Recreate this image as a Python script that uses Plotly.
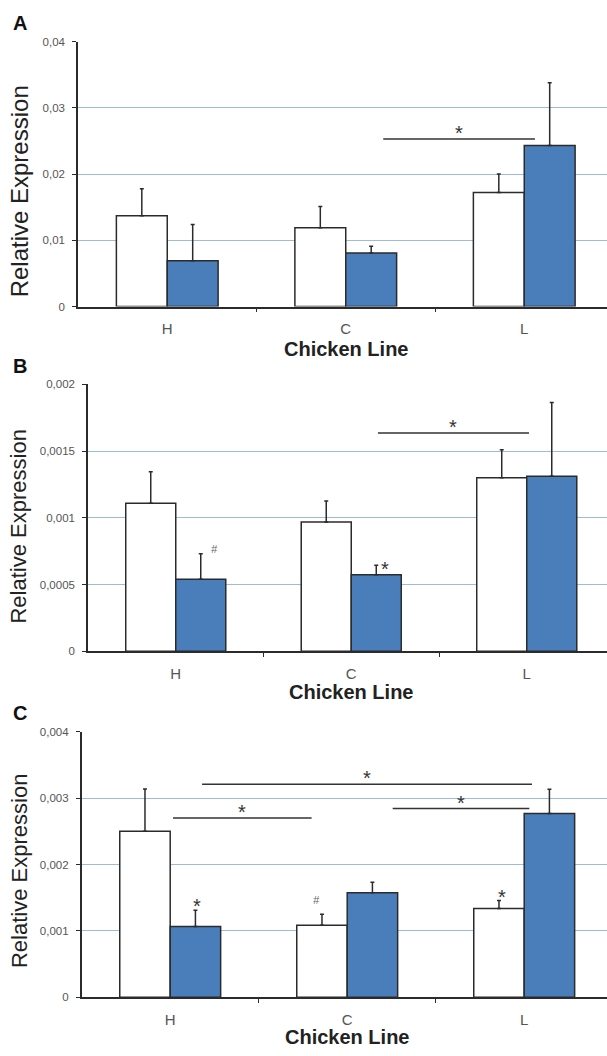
import plotly.graph_objects as go

W, H = 607, 1056

categories = ["H", "C", "L"]
cat_pos = [0, 1, 2]

# Panel A
a_white = [0.0137, 0.0119, 0.0172]
a_white_err = [0.0041, 0.0032, 0.0028]
a_blue = [0.0069, 0.0081, 0.0243]
a_blue_err = [0.0055, 0.0010, 0.0095]
a_ticks = [0, 0.01, 0.02, 0.03, 0.04]
a_ticktext = ["0", "0,01", "0,02", "0,03", "0,04"]

# Panel B
b_white = [0.00111, 0.000968, 0.00130]
b_white_err = [0.000235, 0.000158, 0.00021]
b_blue = [0.000539, 0.000573, 0.001311]
b_blue_err = [0.000192, 0.000071, 0.000553]
b_ticks = [0, 0.0005, 0.001, 0.0015, 0.002]
b_ticktext = ["0", "0,0005", "0,001", "0,0015", "0,002"]

# Panel C
c_white = [0.002504, 0.001088, 0.001337]
c_white_err = [0.000636, 0.000164, 0.000123]
c_blue = [0.001069, 0.001575, 0.002772]
c_blue_err = [0.000243, 0.00016, 0.000364]
c_ticks = [0, 0.001, 0.002, 0.003, 0.004]
c_ticktext = ["0", "0,001", "0,002", "0,003", "0,004"]

# significance bars: (x0, x1, y) in data units
a_sig = [(1.21, 2.06, 0.0253)]
b_sig = [(1.152, 2.013, 0.001635)]
c_sig = [(0.18, 2.044, 0.00321), (0.016, 0.799, 0.002703), (1.257, 2.029, 0.002846)]
# marks above bars: (x, y, text)
b_marks = [(0.218, 0.000768, "#"), (1.192, 0.000657, "*")]
c_marks = [(0.152, 0.001446, "*"), (0.824, 0.00147, "#"), (1.875, 0.00159, "*")]

BLUE = "#4a7ebb"
EDGE = "#2b2b2b"
GRID = "#9dbbe0"
FONT = "Liberation Sans, Arial, sans-serif"

panels = [
    dict(left=78, top=36, bottom=304, cw=178.5, ymax=0.04, ticks=a_ticks, tt=a_ticktext,
         white=a_white, we=a_white_err, blue=a_blue, be=a_blue_err, sig=a_sig, marks=[],
         letter="A", letter_y=17, title_y=187.5, title_size=24, cat_y=325.5, xl_y=347),
    dict(left=88, top=382.7, bottom=652.7, cw=175.5, ymax=0.002, ticks=b_ticks, tt=b_ticktext,
         white=b_white, we=b_white_err, blue=b_blue, be=b_blue_err, sig=b_sig, marks=b_marks,
         letter="B", letter_y=364, title_y=526.5, title_size=22, cat_y=673.5, xl_y=694),
    dict(left=81.7, top=734.3, bottom=1002.7, cw=177, ymax=0.004, ticks=c_ticks, tt=c_ticktext,
         white=c_white, we=c_white_err, blue=c_blue, be=c_blue_err, sig=c_sig, marks=c_marks,
         letter="C", letter_y=715, title_y=875, title_size=22, cat_y=1022, xl_y=1043),
]

fig = go.Figure()
layout = dict(
    width=W, height=H, margin=dict(l=0, r=0, t=0, b=0),
    plot_bgcolor="white", paper_bgcolor="white",
    barmode="group", bargap=0.43, bargroupgap=0,
    showlegend=False, font=dict(family=FONT, color="#333"),
    annotations=[], shapes=[],
)

for i, p in enumerate(panels):
    n = "" if i == 0 else str(i + 1)
    xa, ya = "x" + n, "y" + n
    for vals, errs, col in [(p["white"], p["we"], "white"), (p["blue"], p["be"], BLUE)]:
        fig.add_trace(go.Bar(
            x=cat_pos, y=vals, xaxis=xa, yaxis=ya,
            marker=dict(color=col, line=dict(color=EDGE, width=1.5)),
            error_y=dict(type="data", array=errs, arrayminus=[0] * len(errs), symmetric=False,
                         color=EDGE, thickness=1.5, width=2),
            hoverinfo="skip",
        ))
    xmax = (W - p["left"]) / p["cw"] - 0.5
    layout["xaxis" + n] = dict(
        domain=[p["left"] / W, 1], anchor=ya, range=[-0.5, xmax],
        tickvals=cat_pos, ticktext=categories, ticks="", ticklabelstandoff=8,
        tickfont=dict(size=15, color="#555"),
        minor=dict(tickvals=[0.5, 1.5], ticks="outside", ticklen=4, tickcolor=EDGE, tickwidth=1),
        showline=True, linecolor=EDGE, linewidth=1.5, showgrid=False, zeroline=False,
        fixedrange=True,
    )
    layout["yaxis" + n] = dict(
        domain=[1 - p["bottom"] / H, 1 - p["top"] / H], anchor=xa, range=[0, p["ymax"]],
        tickvals=p["ticks"], ticktext=p["tt"], ticks="outside", ticklen=4, tickcolor=EDGE,
        ticklabelstandoff=5, tickfont=dict(size=11.5, color="#555"),
        showline=True, linecolor=EDGE, linewidth=1.5,
        showgrid=True, gridcolor=GRID, gridwidth=1, zeroline=False, fixedrange=True,
    )
    layout["annotations"].append(dict(
        text="<b>%s</b>" % p["letter"], x=11 / W, y=1 - p["letter_y"] / H, xref="paper", yref="paper",
        xanchor="left", yanchor="middle", showarrow=False, font=dict(size=20, color="#111")))
    layout["annotations"].append(dict(
        text="Relative Expression", x=19 / W, y=1 - p["title_y"] / H, xref="paper", yref="paper",
        textangle=-90, xanchor="center", yanchor="middle", showarrow=False,
        font=dict(size=p["title_size"], color="#222")))
    layout["annotations"].append(dict(
        text="<b>Chicken Line</b>", x=(p["left"] + 1.5 * p["cw"]) / W, y=1 - p["xl_y"] / H,
        xref="paper", yref="paper", xanchor="center", yanchor="middle", showarrow=False,
        font=dict(size=20, color="#222")))
    for (x0, x1, yv) in p["sig"]:
        layout["shapes"].append(dict(type="line", xref=xa, yref=ya, x0=x0, x1=x1, y0=yv, y1=yv,
                                     line=dict(color="#333", width=1.5)))
        layout["annotations"].append(dict(
            text="*", x=(x0 + x1) / 2, y=yv, xref=xa, yref=ya, xanchor="center", yanchor="bottom",
            showarrow=False, yshift=-7, font=dict(size=20, color="#333")))
    for (xv, yv, t) in p["marks"]:
        layout["annotations"].append(dict(
            text=t if t == "*" else "<i>#</i>", x=xv, y=yv, xref=xa, yref=ya, xanchor="center",
            yanchor="middle", showarrow=False, yshift=-5 if t == "*" else 0,
            font=dict(size=20 if t == "*" else 11, color="#333" if t == "*" else "#666")))

fig.update_layout(**layout)
fig.write_html("out.html", config={"displayModeBar": False},
               post_script="document.body.style.margin='0';document.body.style.overflow='hidden';")
